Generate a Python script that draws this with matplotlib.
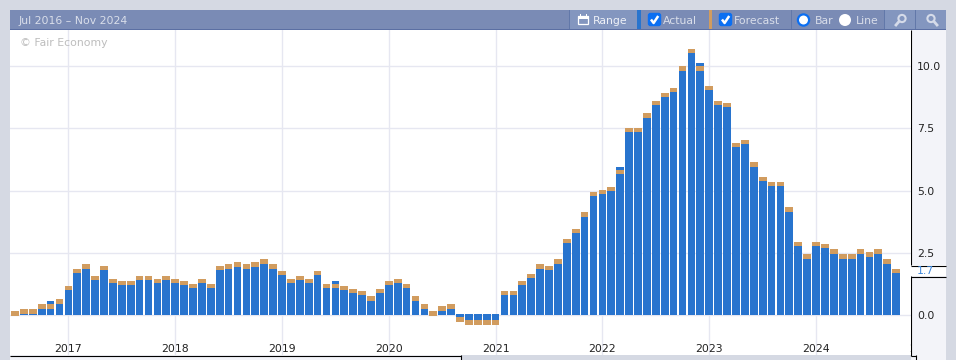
from matplotlib import pyplot as plt
from matplotlib.patches import Rectangle, Circle, FancyBboxPatch
import numpy as np

# monthly values, Jul 2016 .. Oct 2024
actual = [0.0, 0.08, 0.08, 0.28, 0.56, 0.48, 1.01, 1.69, 1.89, 1.41, 1.81, 1.29,
          1.21, 1.21, 1.41, 1.41, 1.29, 1.41, 1.29, 1.21, 1.09, 1.29, 1.09, 1.81,
          1.89, 1.97, 1.89, 1.97, 2.09, 1.89, 1.61, 1.29, 1.41, 1.29, 1.61, 1.09,
          1.37, 1.01, 0.88, 0.80, 0.60, 0.88, 1.21, 1.29, 1.09, 0.60, 0.28, 0.0,
          0.20, 0.28, -0.12, -0.24, -0.24, -0.24, -0.24, 0.80, 0.80, 1.21, 1.49, 1.89,
          1.81, 2.09, 2.90, 3.30, 3.98, 4.79, 4.87, 4.99, 5.95, 7.36, 7.36, 7.96,
          8.44, 8.77, 8.97, 9.85, 10.54, 10.13, 9.05, 8.44, 8.36, 6.76, 6.88, 5.99,
          5.39, 5.19, 5.19, 4.18, 2.77, 2.29, 2.77, 2.69, 2.49, 2.29, 2.29, 2.49,
          2.37, 2.49, 2.09, 1.69]
forecast = [0.16, 0.24, 0.24, 0.44, 0.44, 0.64, 1.17, 1.85, 2.05, 1.57, 1.97, 1.45,
            1.37, 1.37, 1.57, 1.57, 1.45, 1.57, 1.45, 1.37, 1.25, 1.45, 1.25, 1.97,
            2.05, 2.13, 2.05, 2.13, 2.25, 2.05, 1.77, 1.45, 1.57, 1.45, 1.77, 1.25,
            1.25, 1.17, 1.05, 0.97, 0.76, 1.05, 1.37, 1.45, 1.25, 0.76, 0.44, 0.16,
            0.36, 0.44, -0.28, -0.40, -0.40, -0.40, -0.40, 0.97, 0.97, 1.37, 1.65, 2.05,
            1.97, 2.25, 3.06, 3.46, 4.14, 4.95, 5.03, 5.15, 5.83, 7.52, 7.52, 8.12,
            8.61, 8.93, 9.13, 10.01, 10.70, 10.01, 9.21, 8.61, 8.53, 6.92, 7.04, 6.15,
            5.55, 5.35, 5.35, 4.34, 2.94, 2.45, 2.94, 2.86, 2.65, 2.45, 2.45, 2.65,
            2.53, 2.65, 2.25, 1.85]
year_labels = ['2017', '2018', '2019', '2020', '2021', '2022', '2023', '2024', '2025']
year_ticks = [6, 18, 30, 42, 54, 66, 78, 90, 102]
y_ticks = [0.0, 2.5, 5.0, 7.5, 10.0]

BLUE = '#2874ce'
ORANGE = '#d19c5f'
GRID = '#e6e7f1'
PAGE = '#d5d9e3'
HEADER = '#7a8bb5'
BUTTON = '#8396bf'
HEADTEXT = '#d9deea'
PANEL = '#f3f4f9'
BAND = 0.18     # thickness of the forecast marker
FS = 7.8

W, H = 956, 360
fig = plt.figure(figsize=(W / 100, H / 100), dpi=100, facecolor=PAGE)


def px_axes(z):
    a = fig.add_axes([0, 0, 1, 1], zorder=z)
    a.set_xlim(0, W)
    a.set_ylim(H, 0)
    a.axis('off')
    return a


def box(a, x0, y0, x1, y1, color):
    a.add_patch(Rectangle((x0, y0), x1 - x0, y1 - y0, fc=color, ec='none'))


def head_text(a, x, s, color=HEADTEXT):
    a.text(x, 20, s, color=color, fontsize=FS, va='center_baseline', ha='left')


# page furniture under the chart
bg = px_axes(0)
box(bg, 10, 10, 946, 30, HEADER)
box(bg, 10, 29, 946, 30, '#5b6fa3')
box(bg, 911, 30, 946, 360, PANEL)
box(bg, 911, 265, 946, 276, 'white')
box(bg, 10, 355, 461, 360, PANEL)
box(bg, 569, 10, 637, 29, BUTTON)
box(bg, 885, 10, 915, 29, BUTTON)
box(bg, 916, 10, 946, 29, BUTTON)
for sx in [569, 791, 884, 915]:
    box(bg, sx, 10, sx + 1, 29, '#6278a9')
box(bg, 637, 10, 641, 29, BLUE)
box(bg, 709, 10, 712, 29, ORANGE)

# black frame of the value scale
for seg in [((911.5, 30), (911.5, 265)), ((911.5, 276), (911.5, 355.5)),
            ((911, 265.5), (946, 265.5)), ((911, 276.5), (946, 276.5)),
            ((911.5, 355.5), (916.5, 355.5)), ((916.5, 355), (916.5, 360)),
            ((10, 355.5), (461, 355.5)), ((461.5, 355), (461.5, 360))]:
    bg.plot(*zip(*seg), color='black', lw=0.8, solid_capstyle='butt')

head_text(bg, 19, 'Jul 2016 – Nov 2024')
head_text(bg, 593, 'Range', '#eef1f7')
head_text(bg, 663, 'Actual')
head_text(bg, 734, 'Forecast')
head_text(bg, 815, 'Bar')
head_text(bg, 856, 'Line')

# calendar icon
bg.add_patch(Rectangle((578.5, 16), 10, 8, fc='none', ec='white', lw=0.9))
box(bg, 578, 16, 589, 19, 'white')
box(bg, 580, 14, 581, 16, 'white')
box(bg, 586, 14, 587, 16, 'white')

# check boxes
for cx in [648, 719]:
    bg.add_patch(FancyBboxPatch((cx + 0.5, 13.5), 12, 12, boxstyle='round,pad=0,rounding_size=2',
                                fc='#0b6ff2', ec='#0b6ff2', lw=1))
    bg.plot([cx + 3, cx + 5.6, cx + 10.2], [19.5, 23, 16], color='white', lw=1.8,
            solid_capstyle='butt')

# radio buttons
bg.add_patch(Circle((803.5, 20), 5.6, fc='white', ec='#0b6ff2', lw=1.6))
bg.add_patch(Circle((845, 20), 6, fc='white', ec='none'))

# zoom icons
for ix, hx in [(901, -1), (932, 1)]:
    bg.add_patch(Circle((ix - hx, 18.5), 3.6, fc='none', ec='#d5dbe9', lw=1.5))
    bg.plot([ix + hx * 2, ix + hx * 5], [21.5, 25], color='#d5dbe9', lw=2)

# the chart itself
left, right, top, bottom = 10, 911, 30, 355
ax = fig.add_axes([left / W, 1 - bottom / H, (right - left) / W, (bottom - top) / H], zorder=1)
ax.set_facecolor('white')
for s in ax.spines.values():
    s.set_visible(False)

actual = np.array(actual)
forecast = np.array(forecast)
x = np.arange(len(actual))

# negative bars start a touch above the zero line in the original
base = np.where(actual < 0, 0.04, 0.0)
ax.bar(x, actual - base, bottom=base, width=0.87, color=BLUE, lw=0, zorder=2)
band_bottom = np.where(forecast >= 0, forecast - BAND, forecast)
ax.bar(x, BAND, bottom=band_bottom, width=0.87, color=ORANGE, lw=0, zorder=3)

ax.set_xlim(-0.562, 100.67)
ax.set_ylim(-1.608, 11.46)
ax.set_xticks(year_ticks[:-1])
ax.set_yticks(y_ticks)
ax.set_yticklabels(['%.1f' % v for v in y_ticks])
ax.grid(True, color=GRID, lw=1, zorder=0)
ax.set_axisbelow(True)
ax.yaxis.tick_right()
ax.tick_params(axis='x', length=0, labelbottom=False)
ax.tick_params(axis='y', length=0, pad=4.5, labelsize=FS, labelcolor='#222222')

# year labels sit inside the plot; 2025 is cut off by the scale
for tx, lab in zip(year_ticks, year_labels):
    ax.annotate(lab, (tx, 0), xycoords=ax.get_xaxis_transform(), xytext=(0, 2.2),
                textcoords='offset points', fontsize=FS, color='#222222', ha='center',
                va='baseline', annotation_clip=False, clip_on=True)

ax.annotate('© Fair Economy', (0, 1), xycoords='axes fraction', xytext=(7.2, -9.4),
            textcoords='offset points', fontsize=FS, color='#bdbdbd', va='center', zorder=4)

# latest value flag on the scale
ax.annotate('%.1f' % actual[-1], (1, H - 271), xycoords=('axes fraction', 'figure pixels'),
            xytext=(4.5, 0), textcoords='offset points', fontsize=FS, color='#3f88dc',
            va='center', annotation_clip=False)

fig.savefig('out.png', dpi=100, facecolor=PAGE)
